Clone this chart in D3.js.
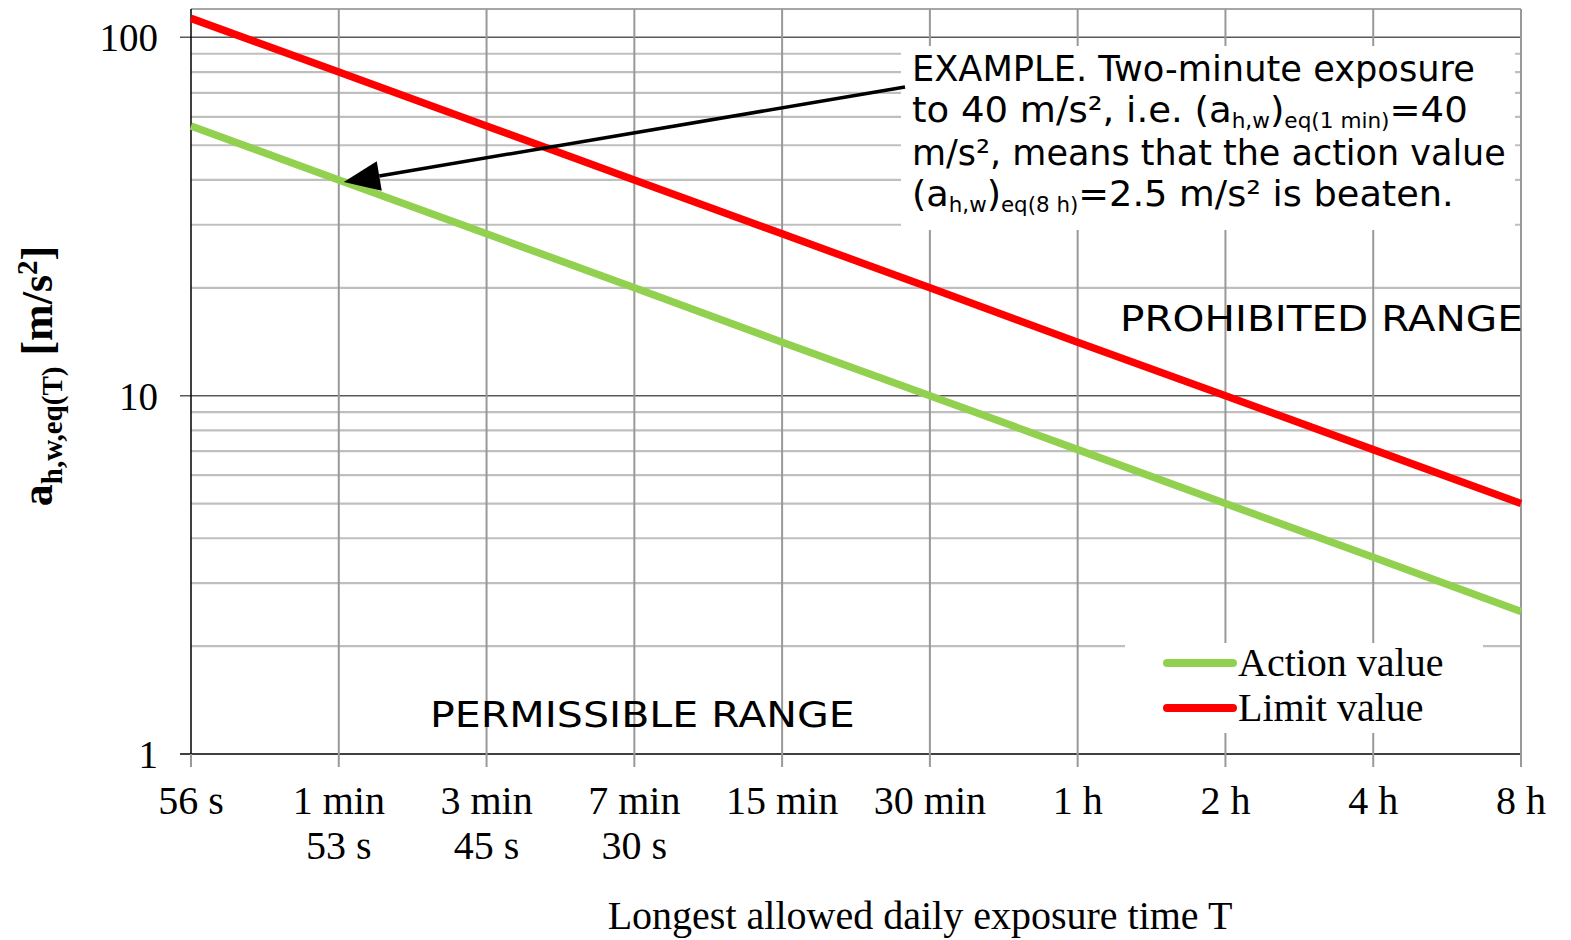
<!DOCTYPE html>
<html><head><meta charset="utf-8">
<script src="https://cdn.jsdelivr.net/npm/d3@7"></script>
<style>html,body{margin:0;padding:0;background:#fff;}</style>
</head><body>
<svg id="c" width="1571" height="940"></svg>
<script>
const categories = ["56 s","1 min 53 s","3 min 45 s","7 min 30 s","15 min","30 min","1 h","2 h","4 h","8 h"];
const tickLines = [["56 s"],["1 min","53 s"],["3 min","45 s"],["7 min","30 s"],["15 min"],["30 min"],["1 h"],["2 h"],["4 h"],["8 h"]];
const actionValues = [56.6, 40, 28.3, 20, 14.1, 10, 7.07, 5, 3.54, 2.5];
const limitValues = [113, 80, 56.6, 40, 28.3, 20, 14.1, 10, 7.07, 5];
const yMajorTicks = [1, 10, 100];
const yMinorTicks = [2,3,4,5,6,7,8,9,20,30,40,50,60,70,80,90];
const seriesNames = ["Action value","Limit value"];
const colors = ["#92D050","#FF0000"];

const svg = d3.select("#c");
const L = 191, R = 1521, T = 9, B = 754;
const x = d3.scalePoint().domain(categories).range([L, R]);
const y = d3.scaleLog().domain([1, 120]).range([B, T]);
const serif = "'Liberation Serif','Times New Roman',serif";
const sans = "'DejaVu Sans',Verdana,sans-serif";

function fitText(sel, target) {
  const w = sel.node().getBBox().width;
  const x0 = +sel.attr("x");
  const s = target / w;
  sel.attr("transform", `translate(${x0},0) scale(${s},1) translate(${-x0},0)`);
}

// minor horizontal grid
svg.append("g").selectAll("line").data(yMinorTicks).join("line")
  .attr("x1", L).attr("x2", R).attr("y1", d => y(d)).attr("y2", d => y(d))
  .attr("stroke", "#bfbfbf").attr("stroke-width", 2.2);
// top border
svg.append("line").attr("x1", L).attr("x2", R).attr("y1", y(120)).attr("y2", y(120))
  .attr("stroke", "#a6a6a6").attr("stroke-width", 2);
// major horizontal grid + ticks
svg.append("g").selectAll("line").data(yMajorTicks).join("line")
  .attr("x1", L - 11).attr("x2", R).attr("y1", d => y(d)).attr("y2", d => y(d))
  .attr("stroke", d => d === 1 ? "#000" : "#595959").attr("stroke-width", 1.5);
// vertical grid
svg.append("g").selectAll("line").data(categories.slice(1)).join("line")
  .attr("x1", d => x(d)).attr("x2", d => x(d)).attr("y1", T).attr("y2", B + 13)
  .attr("stroke", "#999").attr("stroke-width", 2);
svg.append("line").attr("x1", L).attr("x2", L).attr("y1", B).attr("y2", B + 13)
  .attr("stroke", "#999").attr("stroke-width", 2);
// y axis line
svg.append("line").attr("x1", L).attr("x2", L).attr("y1", T).attr("y2", B)
  .attr("stroke", "#000").attr("stroke-width", 1.5);

// y tick labels
svg.append("g").selectAll("text").data(yMajorTicks).join("text")
  .attr("x", 158).attr("y", d => y(d) + 14).attr("text-anchor", "end")
  .attr("font-family", serif).attr("font-size", 39).text(d => d);

// x tick labels
const xt = svg.append("g").selectAll("text").data(categories).join("text")
  .attr("x", d => x(d)).attr("y", 814).attr("text-anchor", "middle")
  .attr("font-family", serif).attr("font-size", 40);
xt.each(function(d, i) {
  const t = d3.select(this);
  tickLines[i].forEach((ln, j) => t.append("tspan").attr("x", x(d)).attr("dy", j === 0 ? 0 : 45).text(ln));
});

// x title
svg.append("text").attr("x", 920).attr("y", 929).attr("text-anchor", "middle")
  .attr("font-family", serif).attr("font-size", 40).text("Longest allowed daily exposure time T");

// y title
const yt = svg.append("text").attr("transform", "translate(52,376) rotate(-90)")
  .attr("text-anchor", "middle").attr("font-family", serif).attr("font-weight", "bold").attr("font-size", 44);
yt.append("tspan").text("a");
yt.append("tspan").attr("font-size", 29).attr("dy", 10).text("h,w,eq(T)");
yt.append("tspan").attr("dy", -10).text(" [m/s");
yt.append("tspan").attr("font-size", 29).attr("dy", -15).text("2");
yt.append("tspan").attr("dy", 15).text("]");

// series lines
const line = d3.line().x((d, i) => x(categories[i])).y(d => y(d));
[actionValues, limitValues].forEach((vals, k) => {
  svg.append("path").attr("d", line(vals)).attr("fill", "none")
    .attr("stroke", colors[k]).attr("stroke-width", 7.5);
});

// range labels
const prohib = svg.append("text").attr("x", 1120).attr("y", 331)
  .attr("font-family", sans).attr("font-size", 36).text("PROHIBITED RANGE");
fitText(prohib, 403);
const permis = svg.append("text").attr("x", 430).attr("y", 727)
  .attr("font-family", sans).attr("font-size", 36).text("PERMISSIBLE RANGE");
fitText(permis, 425);

// annotation box
svg.append("rect").attr("x", 901).attr("y", 46).attr("width", 614).attr("height", 184).attr("fill", "#fff");

// arrow
const tipX = x(categories[1]) + 5, tipY = y(40) + 2;
const tailX = 905, tailY = 87;
const ang = Math.atan2(tipY - tailY, tipX - tailX);
const headLen = 36, headW = 15;
const bx = tipX - headLen * Math.cos(ang), by = tipY - headLen * Math.sin(ang);
svg.append("line").attr("x1", tailX).attr("y1", tailY).attr("x2", bx).attr("y2", by)
  .attr("stroke", "#000").attr("stroke-width", 3.5);
svg.append("path").attr("d", d3.line()([
  [tipX, tipY],
  [bx + headW * Math.sin(ang), by - headW * Math.cos(ang)],
  [bx - headW * Math.sin(ang), by + headW * Math.cos(ang)]
])).attr("fill", "#000");

// annotation text
const annLines = [
  [["EXAMPLE. Two-minute exposure", 0]],
  [["to 40 m/s²,  i.e. (a", 0], ["h,w", 1], [")", 0], ["eq(1 min)", 1], ["=40", 0]],
  [["m/s², means that the action value", 0]],
  [["(a", 0], ["h,w", 1], [")", 0], ["eq(8 h)", 1], ["=2.5 m/s² is beaten.", 0]]
];
const annWidths = [563, 556, 594, 542];
const annY = [81, 122, 165, 206];
annLines.forEach((parts, i) => {
  const t = svg.append("text").attr("x", 912).attr("y", annY[i])
    .attr("font-family", sans).attr("font-size", 36);
  let sub = 0;
  parts.forEach(([s, isSub]) => {
    const ts = t.append("tspan").text(s);
    if (isSub && !sub) { ts.attr("dy", 6).attr("font-size", 21); sub = 1; }
    else if (isSub) { ts.attr("font-size", 21); }
    else if (sub) { ts.attr("dy", -6); sub = 0; }
  });
  fitText(t, annWidths[i]);
});

// legend
svg.append("rect").attr("x", 1125).attr("y", 643).attr("width", 358).attr("height", 90).attr("fill", "#fff");
seriesNames.forEach((n, k) => {
  const ly = 663 + k * 45;
  svg.append("line").attr("x1", 1167).attr("x2", 1233).attr("y1", ly).attr("y2", ly)
    .attr("stroke", colors[k]).attr("stroke-width", 8).attr("stroke-linecap", "round");
  svg.append("text").attr("x", 1238).attr("y", ly + 13).attr("font-family", serif)
    .attr("font-size", 40).text(n);
});
</script>
</body></html>
